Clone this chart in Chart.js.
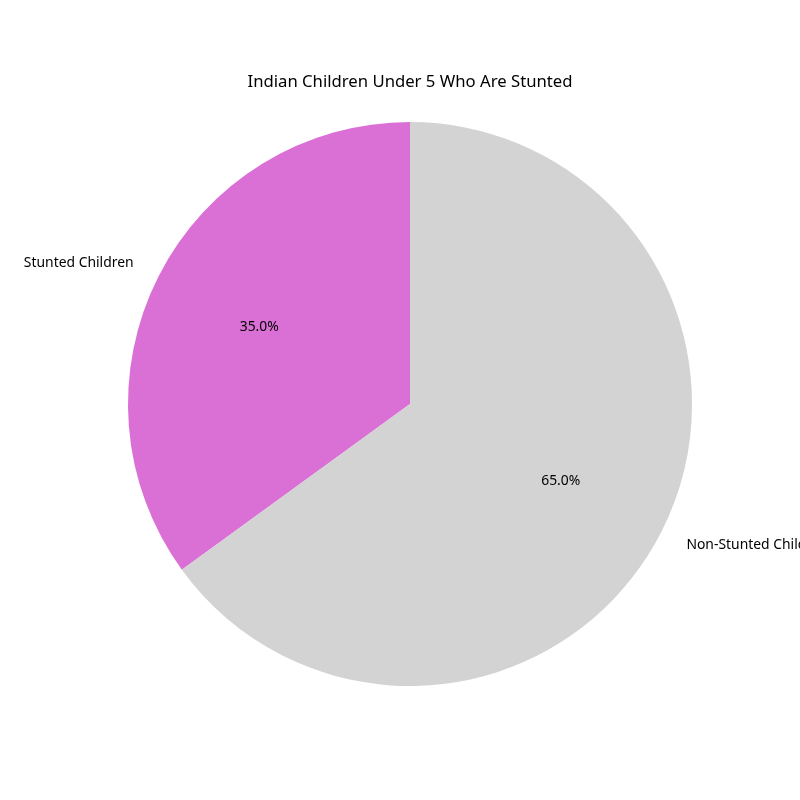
<!DOCTYPE html>
<html>
<head>
<meta charset="utf-8">
<script src="https://cdn.jsdelivr.net/npm/chart.js@4/dist/chart.umd.min.js"></script>
<style>
  html, body { margin: 0; padding: 0; background: #fff; }
  #wrap { width: 800px; height: 800px; }
</style>
</head>
<body>
<div id="wrap"><canvas id="pie" width="800" height="800"></canvas></div>
<script>
// Pie of stunted vs non-stunted children under 5 in India.
const chartTitle = "Indian Children Under 5 Who Are Stunted";
const categories = ["Stunted Children", "Non-Stunted Children"];
const shares = [35, 65];
const sliceColors = ["#DA70D6", "#D3D3D3"];

const FONT = "'Noto Sans', 'Open Sans', sans-serif";

// draws the title, outer labels and percentages the way matplotlib places them
const pieText = {
  id: "pieText",
  afterDraw(chart) {
    const ctx = chart.ctx;
    const total = shares.reduce((a, b) => a + b, 0);
    ctx.save();
    ctx.fillStyle = "#000";
    ctx.font = "16.7px " + FONT;
    ctx.textAlign = "center";
    ctx.textBaseline = "middle";
    ctx.fillText(chartTitle, 410, 82);

    chart.getDatasetMeta(0).data.forEach((arc, i) => {
      const mid = (arc.startAngle + arc.endAngle) / 2;
      const r = arc.outerRadius;
      const cx = Math.cos(mid), cy = Math.sin(mid);
      ctx.font = "13.9px " + FONT;
      ctx.textBaseline = "middle";
      ctx.textAlign = cx < 0 ? "right" : "left";
      ctx.fillText(categories[i], arc.x + cx * r * 1.1, arc.y + cy * r * 1.1);
      ctx.textAlign = "center";
      const pct = (shares[i] / total * 100).toFixed(1) + "%";
      ctx.fillText(pct, arc.x + cx * r * 0.6, arc.y + cy * r * 0.6);
    });
    ctx.restore();
  }
};

new Chart(document.getElementById("pie").getContext("2d"), {
  type: "pie",
  data: {
    labels: categories,
    datasets: [{
      data: shares,
      backgroundColor: sliceColors,
      borderWidth: 0
    }]
  },
  options: {
    responsive: false,
    animation: false,
    rotation: -126,
    layout: { padding: { left: 128, right: 108, top: 122, bottom: 114 } },
    plugins: {
      legend: { display: false },
      title: { display: false },
      tooltip: { enabled: false }
    }
  },
  plugins: [pieText]
});
</script>
</body>
</html>
